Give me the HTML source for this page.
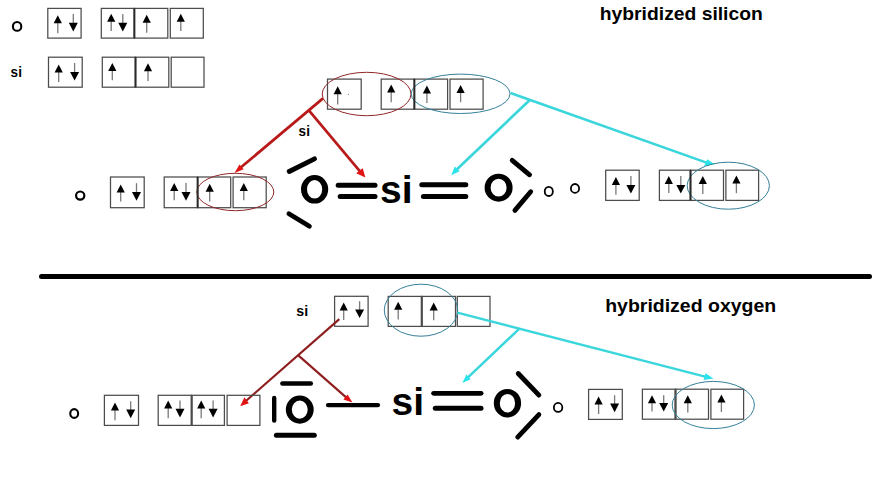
<!DOCTYPE html>
<html><head><meta charset="utf-8"><style>
html,body{margin:0;padding:0;background:#fff;}
svg{display:block;}
text{font-family:"Liberation Sans",sans-serif;font-weight:bold;fill:#000;}
</style></head><body>
<svg width="879" height="500" viewBox="0 0 879 500">
<rect width="879" height="500" fill="#fff"/>
<ellipse cx="17.1" cy="26.4" rx="4.20" ry="4.40" fill="none" stroke="#000" stroke-width="2.1"/>
<rect x="47.8" y="8.4" width="33.3" height="29.7" fill="none" stroke="#4c4c4c" stroke-width="1.25"/>
<line x1="57.8" y1="22.7" x2="57.8" y2="33.3" stroke="#7a7a7a" stroke-width="1.3"/>
<path d="M57.8 15.2L61.9 23.2L53.7 23.2Z" fill="#000"/>
<line x1="73.3" y1="13.9" x2="73.3" y2="23.2" stroke="#7a7a7a" stroke-width="1.3"/>
<path d="M73.3 31.4L77.8 22.7L68.8 22.7Z" fill="#000"/>
<rect x="101.3" y="8.4" width="33.1" height="29.7" fill="none" stroke="#4c4c4c" stroke-width="1.25"/>
<rect x="134.4" y="8.4" width="33.4" height="29.7" fill="none" stroke="#4c4c4c" stroke-width="1.25"/>
<rect x="170.3" y="8.4" width="33.0" height="29.7" fill="none" stroke="#4c4c4c" stroke-width="1.25"/>
<line x1="111.2" y1="21.3" x2="111.2" y2="31.1" stroke="#7a7a7a" stroke-width="1.3"/>
<path d="M111.2 13.8L115.3 21.8L107.1 21.8Z" fill="#000"/>
<line x1="122.8" y1="14.0" x2="122.8" y2="23.2" stroke="#7a7a7a" stroke-width="1.3"/>
<path d="M122.8 31.4L127.3 22.7L118.3 22.7Z" fill="#000"/>
<line x1="146.7" y1="22.2" x2="146.7" y2="32.8" stroke="#7a7a7a" stroke-width="1.3"/>
<path d="M146.7 14.7L150.8 22.7L142.6 22.7Z" fill="#000"/>
<line x1="180.8" y1="21.3" x2="180.8" y2="31.1" stroke="#7a7a7a" stroke-width="1.3"/>
<path d="M180.8 13.8L184.9 21.8L176.7 21.8Z" fill="#000"/>
<text x="10.6" y="76.8" font-size="15.3" textLength="11.3" lengthAdjust="spacingAndGlyphs">si</text>
<rect x="48.5" y="57.2" width="33.7" height="30.0" fill="none" stroke="#4c4c4c" stroke-width="1.25"/>
<line x1="58.7" y1="71.9" x2="58.7" y2="81.9" stroke="#7a7a7a" stroke-width="1.3"/>
<path d="M58.7 64.4L62.8 72.4L54.6 72.4Z" fill="#000"/>
<line x1="74.6" y1="63.0" x2="74.6" y2="72.4" stroke="#7a7a7a" stroke-width="1.3"/>
<path d="M74.6 80.6L79.1 71.9L70.1 71.9Z" fill="#000"/>
<rect x="102.3" y="57.2" width="33.2" height="30.0" fill="none" stroke="#4c4c4c" stroke-width="1.25"/>
<rect x="135.5" y="57.2" width="33.3" height="30.0" fill="none" stroke="#4c4c4c" stroke-width="1.25"/>
<rect x="171.2" y="57.2" width="32.8" height="30.0" fill="none" stroke="#4c4c4c" stroke-width="1.25"/>
<line x1="112.3" y1="70.5" x2="112.3" y2="80.3" stroke="#7a7a7a" stroke-width="1.3"/>
<path d="M112.3 63.0L116.4 71.0L108.2 71.0Z" fill="#000"/>
<line x1="148.0" y1="70.7" x2="148.0" y2="81.1" stroke="#7a7a7a" stroke-width="1.3"/>
<path d="M148.0 63.2L152.1 71.2L143.9 71.2Z" fill="#000"/>
<text x="599.8" y="20.4" font-size="19" textLength="163" lengthAdjust="spacingAndGlyphs">hybridized silicon</text>
<rect x="327.5" y="79.1" width="33.7" height="30.1" fill="none" stroke="#4c4c4c" stroke-width="1.25"/>
<rect x="381.2" y="79.1" width="33.2" height="30.1" fill="none" stroke="#4c4c4c" stroke-width="1.25"/>
<rect x="414.4" y="79.1" width="33.2" height="30.1" fill="none" stroke="#4c4c4c" stroke-width="1.25"/>
<rect x="450.0" y="79.1" width="33.1" height="30.1" fill="none" stroke="#4c4c4c" stroke-width="1.25"/>
<line x1="337.7" y1="93.7" x2="337.7" y2="104.4" stroke="#7a7a7a" stroke-width="1.3"/>
<path d="M337.7 86.2L341.8 94.2L333.6 94.2Z" fill="#000"/>
<line x1="391.2" y1="91.9" x2="391.2" y2="102.2" stroke="#7a7a7a" stroke-width="1.3"/>
<path d="M391.2 84.4L395.3 92.4L387.1 92.4Z" fill="#000"/>
<line x1="426.9" y1="93.1" x2="426.9" y2="103.1" stroke="#7a7a7a" stroke-width="1.3"/>
<path d="M426.9 85.6L431.0 93.6L422.8 93.6Z" fill="#000"/>
<line x1="460.6" y1="92.5" x2="460.6" y2="102.2" stroke="#7a7a7a" stroke-width="1.3"/>
<path d="M460.6 85.0L464.7 93.0L456.5 93.0Z" fill="#000"/>
<ellipse cx="366.6" cy="94.0" rx="44.4" ry="21.7" fill="none" stroke="#922828" stroke-width="1.0"/>
<ellipse cx="460.6" cy="93.8" rx="49.4" ry="19.7" fill="none" stroke="#35809a" stroke-width="1.0"/>
<circle cx="348.4" cy="94.4" r="0.6" fill="#888"/>
<line x1="323.0" y1="98.4" x2="240.4" y2="167.8" stroke="#b81a1a" stroke-width="2.7"/>
<path d="M234.6 173.1L239.4 164.4L243.6 169.2Z" fill="#e01414"/>
<line x1="309.1" y1="110.6" x2="360.4" y2="171.9" stroke="#b81a1a" stroke-width="2.7"/>
<path d="M365.4 177.5L356.1 173.3L362.7 168.2Z" fill="#e01414"/>
<text x="298.6" y="135.8" font-size="15.1" textLength="11.3" lengthAdjust="spacingAndGlyphs">si</text>
<line x1="510.5" y1="93.0" x2="707.2" y2="162.9" stroke="#3ad6dc" stroke-width="2.6"/>
<path d="M714.6 164.3L707.3 159.3L704.1 165.9Z" fill="#2ae4ec"/>
<line x1="529.8" y1="100.0" x2="456.2" y2="169.9" stroke="#3ad6dc" stroke-width="2.7"/>
<path d="M451.2 175.2L454.8 166.4L459.6 171.2Z" fill="#2ae4ec"/>
<ellipse cx="80.2" cy="195.6" rx="4.15" ry="4.10" fill="none" stroke="#000" stroke-width="2.2"/>
<rect x="110.5" y="177.0" width="33.7" height="30.7" fill="none" stroke="#4c4c4c" stroke-width="1.25"/>
<line x1="120.7" y1="192.1" x2="120.7" y2="201.6" stroke="#7a7a7a" stroke-width="1.3"/>
<path d="M120.7 184.6L124.8 192.6L116.6 192.6Z" fill="#000"/>
<line x1="136.5" y1="183.2" x2="136.5" y2="192.5" stroke="#7a7a7a" stroke-width="1.3"/>
<path d="M136.5 200.7L141.0 192.0L132.0 192.0Z" fill="#000"/>
<rect x="164.2" y="177.0" width="33.4" height="30.7" fill="none" stroke="#4c4c4c" stroke-width="1.25"/>
<rect x="197.6" y="177.0" width="33.1" height="30.7" fill="none" stroke="#4c4c4c" stroke-width="1.25"/>
<rect x="233.1" y="177.0" width="33.1" height="30.7" fill="none" stroke="#4c4c4c" stroke-width="1.25"/>
<line x1="174.2" y1="190.4" x2="174.2" y2="200.2" stroke="#7a7a7a" stroke-width="1.3"/>
<path d="M174.2 182.9L178.3 190.9L170.1 190.9Z" fill="#000"/>
<line x1="186.0" y1="182.9" x2="186.0" y2="192.5" stroke="#7a7a7a" stroke-width="1.3"/>
<path d="M186.0 200.7L190.5 192.0L181.5 192.0Z" fill="#000"/>
<line x1="209.7" y1="191.2" x2="209.7" y2="201.4" stroke="#7a7a7a" stroke-width="1.3"/>
<path d="M209.7 183.7L213.8 191.7L205.6 191.7Z" fill="#000"/>
<line x1="243.8" y1="190.5" x2="243.8" y2="200.2" stroke="#7a7a7a" stroke-width="1.3"/>
<path d="M243.8 183.0L247.9 191.0L239.7 191.0Z" fill="#000"/>
<ellipse cx="235.3" cy="192.0" rx="38.5" ry="18.7" fill="none" stroke="#922828" stroke-width="1.0"/>
<line x1="289.2" y1="171.5" x2="314.5" y2="158.8" stroke="#000" stroke-width="4.8" stroke-linecap="round"/>
<line x1="288.9" y1="213.8" x2="309.4" y2="226.2" stroke="#000" stroke-width="4.8" stroke-linecap="round"/>
<path fill-rule="evenodd" fill="#000" d="M301.00 189.30a13.60 14.30 0 1 0 27.20 0a13.60 14.30 0 1 0 -27.20 0Z M307.00 189.30a7.60 9.30 0 1 0 15.20 0a7.60 9.30 0 1 0 -15.20 0Z"/>
<line x1="338.2" y1="185.3" x2="375.0" y2="185.3" stroke="#000" stroke-width="5.0" stroke-linecap="round"/>
<line x1="340.2" y1="196.5" x2="375.0" y2="196.5" stroke="#000" stroke-width="5.0" stroke-linecap="round"/>
<text x="380.0" y="203.4" font-size="38" textLength="32.5" lengthAdjust="spacingAndGlyphs">si</text>
<line x1="421.8" y1="184.8" x2="465.8" y2="184.8" stroke="#000" stroke-width="5.0" stroke-linecap="round"/>
<line x1="423.4" y1="196.4" x2="465.8" y2="196.4" stroke="#000" stroke-width="5.0" stroke-linecap="round"/>
<path fill-rule="evenodd" fill="#000" d="M484.60 187.65a14.00 13.95 0 1 0 28.00 0a14.00 13.95 0 1 0 -28.00 0Z M490.60 187.65a8.00 8.95 0 1 0 16.00 0a8.00 8.95 0 1 0 -16.00 0Z"/>
<line x1="512.2" y1="160.4" x2="529.6" y2="174.8" stroke="#000" stroke-width="4.8" stroke-linecap="round"/>
<line x1="530.7" y1="191.7" x2="514.9" y2="210.4" stroke="#000" stroke-width="4.8" stroke-linecap="round"/>
<ellipse cx="548.8" cy="191.4" rx="4.05" ry="4.60" fill="none" stroke="#000" stroke-width="1.8"/>
<ellipse cx="575.0" cy="188.4" rx="4.10" ry="4.40" fill="none" stroke="#000" stroke-width="1.8"/>
<rect x="605.7" y="170.2" width="33.5" height="30.2" fill="none" stroke="#4c4c4c" stroke-width="1.25"/>
<line x1="615.9" y1="184.6" x2="615.9" y2="194.7" stroke="#7a7a7a" stroke-width="1.3"/>
<path d="M615.9 177.1L620.0 185.1L611.8 185.1Z" fill="#000"/>
<line x1="630.9" y1="175.9" x2="630.9" y2="185.4" stroke="#7a7a7a" stroke-width="1.3"/>
<path d="M630.9 193.6L635.4 184.9L626.4 184.9Z" fill="#000"/>
<rect x="659.4" y="170.2" width="31.1" height="30.2" fill="none" stroke="#4c4c4c" stroke-width="1.25"/>
<rect x="690.5" y="170.2" width="33.0" height="30.2" fill="none" stroke="#4c4c4c" stroke-width="1.25"/>
<rect x="725.9" y="170.2" width="32.7" height="30.2" fill="none" stroke="#4c4c4c" stroke-width="1.25"/>
<line x1="668.8" y1="183.4" x2="668.8" y2="193.0" stroke="#7a7a7a" stroke-width="1.3"/>
<path d="M668.8 175.9L672.9 183.9L664.7 183.9Z" fill="#000"/>
<line x1="680.8" y1="175.9" x2="680.8" y2="185.4" stroke="#7a7a7a" stroke-width="1.3"/>
<path d="M680.8 193.6L685.3 184.9L676.3 184.9Z" fill="#000"/>
<line x1="702.8" y1="183.5" x2="702.8" y2="194.0" stroke="#7a7a7a" stroke-width="1.3"/>
<path d="M702.8 176.0L706.9 184.0L698.7 184.0Z" fill="#000"/>
<line x1="736.4" y1="183.1" x2="736.4" y2="193.2" stroke="#7a7a7a" stroke-width="1.3"/>
<path d="M736.4 175.6L740.5 183.6L732.3 183.6Z" fill="#000"/>
<ellipse cx="728.3" cy="185.7" rx="41.1" ry="23.5" fill="none" stroke="#35809a" stroke-width="1.0"/>
<line x1="134.4" y1="8.4" x2="134.4" y2="38.1" stroke="#2a2a2a" stroke-width="1.9"/>
<line x1="135.5" y1="57.2" x2="135.5" y2="87.2" stroke="#2a2a2a" stroke-width="1.9"/>
<line x1="414.4" y1="79.1" x2="414.4" y2="109.2" stroke="#2a2a2a" stroke-width="1.9"/>
<line x1="197.6" y1="177.0" x2="197.6" y2="207.7" stroke="#2a2a2a" stroke-width="1.9"/>
<line x1="690.5" y1="170.2" x2="690.5" y2="200.4" stroke="#2a2a2a" stroke-width="1.9"/>
<line x1="421.7" y1="296.4" x2="421.7" y2="326.4" stroke="#2a2a2a" stroke-width="1.9"/>
<line x1="191.6" y1="395.3" x2="191.6" y2="425.4" stroke="#2a2a2a" stroke-width="1.9"/>
<line x1="675.5" y1="389.2" x2="675.5" y2="419.2" stroke="#2a2a2a" stroke-width="1.9"/>
<line x1="41.5" y1="276.5" x2="869.5" y2="276.5" stroke="#000" stroke-width="5" stroke-linecap="round"/>
<text x="296.3" y="315.6" font-size="15.3" textLength="11.8" lengthAdjust="spacingAndGlyphs">si</text>
<rect x="334.6" y="296.3" width="33.5" height="30.0" fill="none" stroke="#4c4c4c" stroke-width="1.25"/>
<line x1="343.7" y1="310.0" x2="343.7" y2="320.0" stroke="#7a7a7a" stroke-width="1.3"/>
<path d="M343.7 302.5L347.8 310.5L339.6 310.5Z" fill="#000"/>
<line x1="359.6" y1="301.2" x2="359.6" y2="309.9" stroke="#7a7a7a" stroke-width="1.3"/>
<path d="M359.6 318.1L364.1 309.4L355.1 309.4Z" fill="#000"/>
<rect x="388.2" y="296.4" width="33.5" height="30.0" fill="none" stroke="#4c4c4c" stroke-width="1.25"/>
<rect x="421.7" y="296.4" width="33.8" height="30.0" fill="none" stroke="#4c4c4c" stroke-width="1.25"/>
<rect x="457.3" y="296.4" width="32.7" height="30.0" fill="none" stroke="#4c4c4c" stroke-width="1.25"/>
<line x1="398.2" y1="309.3" x2="398.2" y2="319.6" stroke="#7a7a7a" stroke-width="1.3"/>
<path d="M398.2 301.8L402.3 309.8L394.1 309.8Z" fill="#000"/>
<line x1="433.7" y1="310.0" x2="433.7" y2="320.3" stroke="#7a7a7a" stroke-width="1.3"/>
<path d="M433.7 302.5L437.8 310.5L429.6 310.5Z" fill="#000"/>
<ellipse cx="421.0" cy="310.2" rx="36.7" ry="26.0" fill="none" stroke="#35809a" stroke-width="1.0"/>
<text x="605.2" y="312.3" font-size="19" textLength="171" lengthAdjust="spacingAndGlyphs">hybridized oxygen</text>
<line x1="339.3" y1="319.1" x2="245.6" y2="401.3" stroke="#8e1e1e" stroke-width="2.1"/>
<path d="M240.2 406.3L244.4 397.3L248.9 403.3Z" fill="#e01414"/>
<line x1="298.3" y1="355.4" x2="346.7" y2="397.9" stroke="#8e1e1e" stroke-width="2.1"/>
<path d="M352.4 402.5L343.4 399.5L347.6 394.4Z" fill="#e01414"/>
<line x1="457.3" y1="312.7" x2="706.0" y2="376.9" stroke="#3ad6dc" stroke-width="2.4"/>
<path d="M713.5 378.4L705.5 373.3L703.5 380.0Z" fill="#2ae4ec"/>
<line x1="519.4" y1="328.6" x2="467.5" y2="377.9" stroke="#3ad6dc" stroke-width="2.5"/>
<path d="M462.3 383.1L466.5 374.4L470.7 379.3Z" fill="#2ae4ec"/>
<ellipse cx="74.2" cy="413.5" rx="3.95" ry="4.40" fill="none" stroke="#000" stroke-width="2.1"/>
<rect x="104.4" y="395.3" width="34.1" height="30.1" fill="none" stroke="#4c4c4c" stroke-width="1.25"/>
<line x1="115.0" y1="410.0" x2="115.0" y2="420.3" stroke="#7a7a7a" stroke-width="1.3"/>
<path d="M115.0 402.5L119.1 410.5L110.9 410.5Z" fill="#000"/>
<line x1="130.7" y1="401.2" x2="130.7" y2="410.0" stroke="#7a7a7a" stroke-width="1.3"/>
<path d="M130.7 418.2L135.2 409.5L126.2 409.5Z" fill="#000"/>
<rect x="158.2" y="395.3" width="33.4" height="30.1" fill="none" stroke="#4c4c4c" stroke-width="1.25"/>
<rect x="191.6" y="395.3" width="32.8" height="30.1" fill="none" stroke="#4c4c4c" stroke-width="1.25"/>
<rect x="227.1" y="395.3" width="32.8" height="30.1" fill="none" stroke="#4c4c4c" stroke-width="1.25"/>
<line x1="168.2" y1="408.0" x2="168.2" y2="418.2" stroke="#7a7a7a" stroke-width="1.3"/>
<path d="M168.2 400.5L172.3 408.5L164.1 408.5Z" fill="#000"/>
<line x1="180.0" y1="400.5" x2="180.0" y2="409.3" stroke="#7a7a7a" stroke-width="1.3"/>
<path d="M180.0 417.5L184.5 408.8L175.5 408.8Z" fill="#000"/>
<line x1="201.2" y1="408.0" x2="201.2" y2="418.2" stroke="#7a7a7a" stroke-width="1.3"/>
<path d="M201.2 400.5L205.3 408.5L197.1 408.5Z" fill="#000"/>
<line x1="213.1" y1="400.5" x2="213.1" y2="409.3" stroke="#7a7a7a" stroke-width="1.3"/>
<path d="M213.1 417.5L217.6 408.8L208.6 408.8Z" fill="#000"/>
<line x1="282.4" y1="383.5" x2="310.8" y2="383.5" stroke="#000" stroke-width="4.5" stroke-linecap="round"/>
<line x1="274.2" y1="398.0" x2="274.2" y2="420.6" stroke="#000" stroke-width="4.4" stroke-linecap="round"/>
<path fill-rule="evenodd" fill="#000" d="M285.80 409.60a13.95 14.10 0 1 0 27.90 0a13.95 14.10 0 1 0 -27.90 0Z M291.80 409.60a7.95 9.10 0 1 0 15.90 0a7.95 9.10 0 1 0 -15.90 0Z"/>
<line x1="276.4" y1="435.2" x2="314.3" y2="435.2" stroke="#000" stroke-width="5.0" stroke-linecap="round"/>
<line x1="328.1" y1="405.1" x2="377.9" y2="405.1" stroke="#000" stroke-width="4.4" stroke-linecap="round"/>
<text x="391.5" y="415.1" font-size="38" textLength="32.5" lengthAdjust="spacingAndGlyphs">si</text>
<line x1="433.6" y1="393.3" x2="481.1" y2="393.3" stroke="#000" stroke-width="4.8" stroke-linecap="round"/>
<line x1="435.3" y1="408.3" x2="481.0" y2="408.3" stroke="#000" stroke-width="5.0" stroke-linecap="round"/>
<path fill-rule="evenodd" fill="#000" d="M493.80 403.15a13.65 14.25 0 1 0 27.30 0a13.65 14.25 0 1 0 -27.30 0Z M499.80 403.15a7.65 9.25 0 1 0 15.30 0a7.65 9.25 0 1 0 -15.30 0Z"/>
<line x1="518.2" y1="373.5" x2="538.9" y2="395.1" stroke="#000" stroke-width="4.8" stroke-linecap="round"/>
<line x1="538.9" y1="414.6" x2="517.7" y2="437.1" stroke="#000" stroke-width="4.8" stroke-linecap="round"/>
<ellipse cx="558.1" cy="407.4" rx="4.25" ry="4.45" fill="none" stroke="#000" stroke-width="1.8"/>
<rect x="588.6" y="389.4" width="33.7" height="30.0" fill="none" stroke="#4c4c4c" stroke-width="1.25"/>
<line x1="598.6" y1="403.9" x2="598.6" y2="414.0" stroke="#7a7a7a" stroke-width="1.3"/>
<path d="M598.6 396.4L602.7 404.4L594.5 404.4Z" fill="#000"/>
<line x1="614.6" y1="395.2" x2="614.6" y2="404.0" stroke="#7a7a7a" stroke-width="1.3"/>
<path d="M614.6 412.2L619.1 403.5L610.1 403.5Z" fill="#000"/>
<rect x="642.4" y="389.2" width="33.1" height="30.0" fill="none" stroke="#4c4c4c" stroke-width="1.25"/>
<rect x="675.5" y="389.2" width="33.0" height="30.0" fill="none" stroke="#4c4c4c" stroke-width="1.25"/>
<rect x="710.9" y="389.2" width="32.7" height="30.0" fill="none" stroke="#4c4c4c" stroke-width="1.25"/>
<line x1="652.0" y1="402.7" x2="652.0" y2="411.6" stroke="#7a7a7a" stroke-width="1.3"/>
<path d="M652.0 395.2L656.1 403.2L647.9 403.2Z" fill="#000"/>
<line x1="663.7" y1="395.2" x2="663.7" y2="403.4" stroke="#7a7a7a" stroke-width="1.3"/>
<path d="M663.7 411.6L668.2 402.9L659.2 402.9Z" fill="#000"/>
<line x1="687.8" y1="402.7" x2="687.8" y2="412.6" stroke="#7a7a7a" stroke-width="1.3"/>
<path d="M687.8 395.2L691.9 403.2L683.7 403.2Z" fill="#000"/>
<line x1="721.4" y1="402.1" x2="721.4" y2="412.0" stroke="#7a7a7a" stroke-width="1.3"/>
<path d="M721.4 394.6L725.5 402.6L717.3 402.6Z" fill="#000"/>
<ellipse cx="713.3" cy="405.0" rx="41.1" ry="23.6" fill="none" stroke="#35809a" stroke-width="1.0"/>
</svg>
</body></html>
